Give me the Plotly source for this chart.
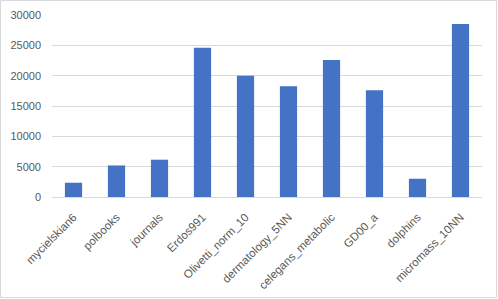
import plotly.graph_objects as go

categories = ["mycielskian6", "polbooks", "journals", "Erdos991", "Olivetti_norm_10",
              "dermatology_5NN", "celegans_metabolic", "GD00_a", "dolphins", "micromass_10NN"]
values = [2350, 5200, 6150, 24600, 20000, 18270, 22600, 17600, 3010, 28520]
y_ticks = [0, 5000, 10000, 15000, 20000, 25000, 30000]

W, H = 498, 299
ml, mr, mt, mb = 52, 16, 15, 102

fig = go.Figure(go.Bar(x=categories, y=values, marker=dict(color="#4472C4", line=dict(width=0))))

pw = W - ml - mr
ph = H - mt - mb
fig.add_shape(type="rect", xref="paper", yref="paper",
              x0=-(ml - 0.5) / pw, x1=1 + (mr - 1.5) / pw,
              y0=-(mb - 1.5) / ph, y1=1 + (mt - 0.5) / ph,
              line=dict(color="#d9d9d9", width=1), layer="below")

fig.update_layout(
    width=W, height=H,
    margin=dict(l=ml, r=mr, t=mt, b=mb, autoexpand=False),
    paper_bgcolor="white", plot_bgcolor="white",
    bargap=0.6,
    showlegend=False,
    font=dict(family="Liberation Sans, Arial", size=11, color="#595959"),
)
fig.update_xaxes(tickangle=-45, showgrid=False, showline=True, linecolor="#d9d9d9",
                 ticks="", automargin=False, ticklabelstandoff=8,
                 tickfont=dict(size=11.5, color="#595959"))
fig.update_yaxes(range=[0, 30000], tickvals=y_ticks, ticktext=[str(v) for v in y_ticks],
                 showgrid=True, gridcolor="#d9d9d9", automargin=False,
                 zeroline=False, showline=False, ticks="", ticklabelstandoff=10,
                 tickfont=dict(size=11, color="#595959"))

fig.write_html("out.html", config={"displayModeBar": False},
               post_script="document.body.style.margin='0';document.body.style.overflow='hidden';")
